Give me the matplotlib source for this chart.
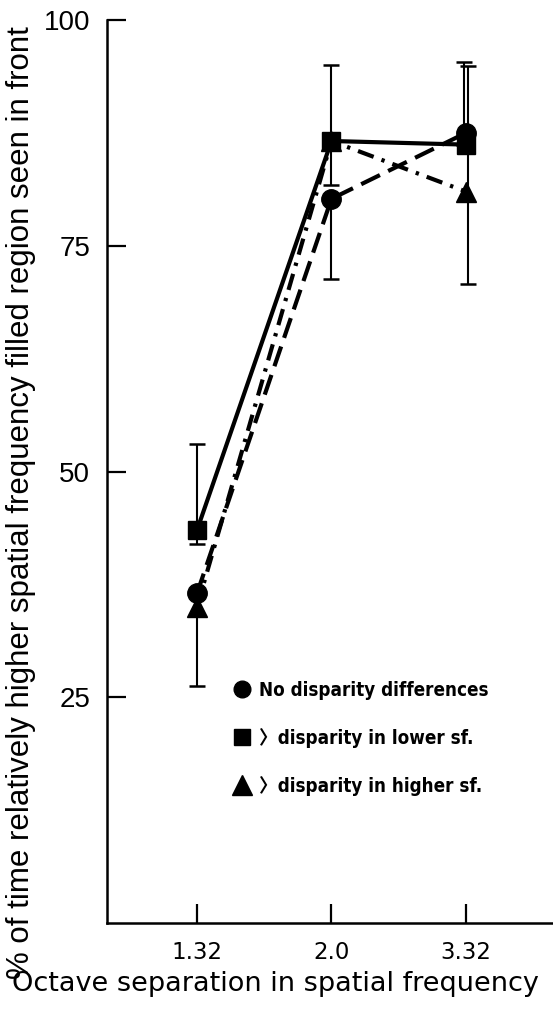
import matplotlib
matplotlib.use("Agg")
import matplotlib.pyplot as plt
from matplotlib.lines import Line2D
from matplotlib import font_manager
import numpy as np

# ---- data ----
categories = ["1.32", "2.0", "3.32"]
no_disp = [36.5, 80.2, 87.5]
no_disp_low = [26.3, 71.3, 70.8]
no_disp_high = [36.5, 80.2, 94.9]
lower_sf = [43.5, 86.6, 86.2]
lower_sf_low = [42.0, 81.7, 86.2]
lower_sf_high = [53.0, 95.0, 95.4]
higher_sf = [35.0, 86.6, 81.0]
yticks = [25, 50, 75, 100]
legend_labels = ["No disparity differences",
                 "\u3009disparity in lower sf.",
                 "\u3009disparity in higher sf."]

names = {f.name for f in font_manager.fontManager.ttflist}
narrow = "Liberation Sans Narrow" if "Liberation Sans Narrow" in names else "Liberation Sans"
ylab_size = 27.5 if narrow == "Liberation Sans Narrow" else 22.5

W, H = 553, 1009
fig = plt.figure(figsize=(W / 100, H / 100), dpi=100)
ax = fig.add_axes([107 / W, 1 - 923 / H, 1 - 107 / W, (923 - 20) / H])

x = np.arange(len(categories))
lw = 3.0

def draw_err(xs, vals, lo, hi, dx):
    vals = np.array(vals); lo = np.array(lo); hi = np.array(hi)
    ax.errorbar(xs + dx, vals, yerr=[vals - lo, hi - vals], fmt="none",
                ecolor="black", elinewidth=1.5, capsize=5.5, capthick=1.8, zorder=2)

draw_err(x, no_disp, no_disp_low, no_disp_high, np.array([0, 0, 0.015]))
draw_err(x, lower_sf, lower_sf_low, lower_sf_high, np.array([0, 0, -0.015]))

ax.plot(x, lower_sf, color="black", lw=lw, ls="-", marker="s", ms=13, zorder=4)
ax.plot(x, no_disp, color="black", lw=lw, ls=(0, (5, 2.2)), marker="o", ms=14, zorder=3)
ax.plot(x, higher_sf, color="black", lw=lw, ls=(0, (4, 2, 0.8, 2)), marker="^", ms=15, zorder=3)

ax.set_xlim(-0.669, 2.647)
ax.set_ylim(0, 100)
ax.set_xticks(x)
ax.set_xticklabels(categories, family="DejaVu Sans", fontsize=16.5)
ax.set_yticks(yticks)
ax.set_yticklabels([str(v) for v in yticks], family="Liberation Sans", fontsize=20)
ax.tick_params(axis="both", direction="in", length=14, width=1.6, color="black")
ax.tick_params(axis="y", pad=12)
ax.tick_params(axis="x", pad=13)
for s in ["top", "right"]:
    ax.spines[s].set_visible(False)
for s in ["left", "bottom"]:
    ax.spines[s].set_linewidth(1.8)

ax.set_ylabel("% of time relatively higher spatial frequency filled region seen in front",
              family=narrow, fontsize=ylab_size)
ax.yaxis.set_label_coords(-0.159, 0.466)
ax.set_xlabel("Octave separation in spatial frequency", family="DejaVu Sans", fontsize=19.5)
ax.xaxis.set_label_coords(0.377, -0.053)

handles = [Line2D([], [], ls="none", marker="o", ms=12, color="black"),
           Line2D([], [], ls="none", marker="s", ms=12, color="black"),
           Line2D([], [], ls="none", marker="^", ms=15, color="black")]
leg = ax.legend(handles, legend_labels, loc="upper left",
                bbox_to_anchor=(0.243, 0.287), frameon=False,
                handlelength=1.0, handletextpad=0.45, labelspacing=1.5,
                prop=font_manager.FontProperties(family=["DejaVu Sans", "Noto Sans CJK JP"],
                                                 size=13.5, weight="bold",
                                                 stretch="condensed"))

fig.savefig("out.png", dpi=100)
